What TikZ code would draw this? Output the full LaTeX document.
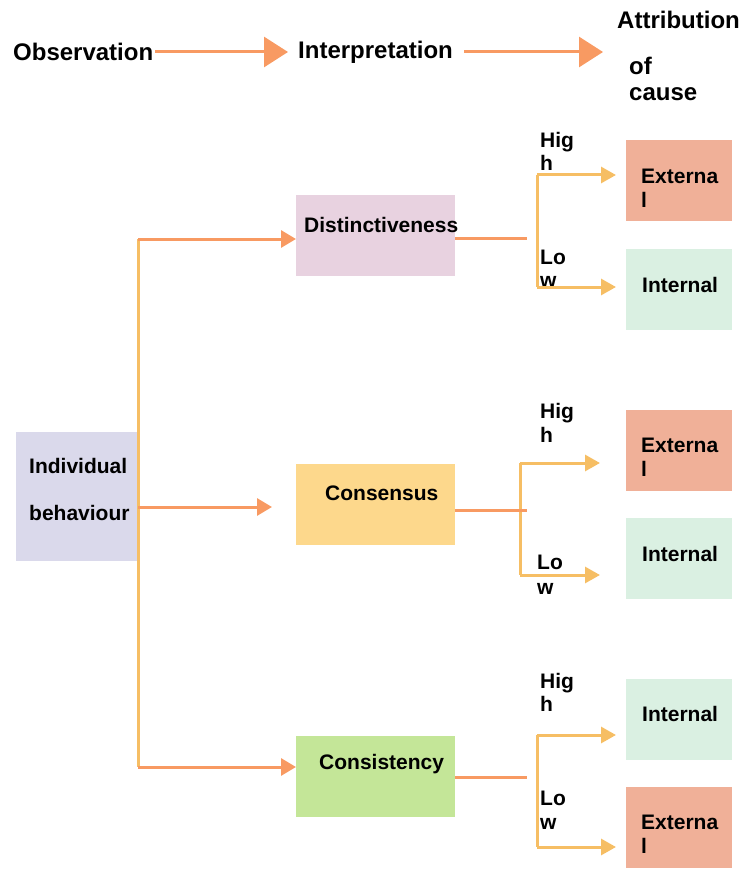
\documentclass[tikz,border=0pt]{standalone}
\usepackage{fontspec}
\setmainfont{Liberation Sans}
\usetikzlibrary{arrows.meta}
\definecolor{orline}{HTML}{F89A62}
\definecolor{yelline}{HTML}{F6BE64}
\definecolor{indivfill}{HTML}{DAD9EB}
\definecolor{distfill}{HTML}{E8D2E0}
\definecolor{consfill}{HTML}{FDD88C}
\definecolor{consifill}{HTML}{C4E698}
\definecolor{extfill}{HTML}{F0B098}
\definecolor{intfill}{HTML}{DAF0E2}
\tikzset{
  lbl/.style={inner sep=0pt, anchor=west, align=left, font=\fontsize{21}{24}\selectfont\bfseries},
  hdr/.style={inner sep=0pt, anchor=west, font=\fontsize{24}{28}\selectfont\bfseries},
  mid/.style={draw=none, inner sep=0pt, anchor=north west, minimum width=159pt, minimum height=81pt},
  res/.style={draw=none, inner sep=0pt, anchor=north west, minimum width=106pt, minimum height=81pt},
  orl/.style={draw=orline, line width=3pt},
  yel/.style={draw=yelline, line width=3pt},
  ora/.style={orl, -{Triangle[length=15pt,width=17pt]}},
  yea/.style={yel, -{Triangle[length=15pt,width=16pt]}},
  biga/.style={orl, -{Triangle[length=24pt,width=30pt]}}
}
\begin{document}
\begin{tikzpicture}[x=1pt,y=-1pt]
\useasboundingbox (0,0) rectangle (741,869);

% header
\node[hdr] (obs) at (13,52) {Observation};
\node[hdr] (interp) at (298,52) {Interpretation};
\node[hdr] (attr) at (617,20) {Attribution};
\node[hdr] (of) at (629,66) {of};
\node[hdr] (cause) at (629,94) {cause};
\draw[biga, shorten <=2pt, shorten >=10pt] (obs.east) -- (interp.west |- obs.east);
\draw[biga, shorten <=11pt, shorten >=26pt] (interp.east) -- (of.west |- interp.east);

% boxes
\node[draw=none, fill=indivfill, inner sep=0pt, anchor=north west, minimum width=122pt, minimum height=129pt] (indiv) at (16,432) {};
\node[mid, fill=distfill] (dist) at (296,195) {};
\node[mid, fill=consfill] (cons) at (296,464) {};
\node[mid, fill=consifill] (consi) at (296,736) {};
\node[res, fill=extfill] (ext1) at (626,140) {};
\node[res, fill=intfill] (int1) at (626,249) {};
\node[res, fill=extfill] (ext2) at (626,410) {};
\node[res, fill=intfill] (int2) at (626,518) {};
\node[res, fill=intfill] (int3) at (626,679) {};
\node[res, fill=extfill] (ext3) at (626,787) {};

% box texts
\node[lbl, font=\fontsize{21}{47}\selectfont\bfseries] (indivtxt) at (29,489.5) {Individual\\behaviour};
\node[lbl] (disttxt) at (304,225) {Distinctiveness};
\node[lbl] (constxt) at (325,493) {Consensus};
\node[lbl] (consitxt) at (319,764) {Consistency};
\node[lbl] (ext1txt) at (641,188) {Externa\\l};
\node[lbl] (int1txt) at (642,285) {Internal};
\node[lbl] (ext2txt) at (641,457) {Externa\\l};
\node[lbl] (int2txt) at (642,554) {Internal};
\node[lbl] (int3txt) at (642,714) {Internal};
\node[lbl] (ext3txt) at (641,834) {Externa\\l};

% high / low
\node[lbl, font=\fontsize{21}{23}\selectfont\bfseries] (hi1) at (540,151.5) {Hig\\h};
\node[lbl, font=\fontsize{21}{23}\selectfont\bfseries] (lo1) at (540,269) {Lo\\w};
\node[lbl, font=\fontsize{21}{24}\selectfont\bfseries] (hi2) at (540,423) {Hig\\h};
\node[lbl, font=\fontsize{21}{25}\selectfont\bfseries] (lo2) at (537,574.5) {Lo\\w};
\node[lbl, font=\fontsize{21}{23}\selectfont\bfseries] (hi3) at (540,692.5) {Hig\\h};
\node[lbl, font=\fontsize{21}{24}\selectfont\bfseries] (lo3) at (540,810) {Lo\\w};

% left tree
\coordinate (ttop) at (138,239);
\coordinate (tmid) at (138,507);
\coordinate (tbot) at (138,767);
\draw[yel] (ttop) -- (tbot);
\draw[ora] (ttop) -- (ttop -| dist.west);
\draw[ora, shorten >=24pt] (tmid) -- (tmid -| cons.west);
\draw[ora] (tbot) -- (tbot -| consi.west);

% distinctiveness
\coordinate (dfork) at (527,238);
\coordinate (dhi) at (537,175);
\coordinate (dlo) at (537,287);
\draw[orl] (dist.east |- dfork) -- (dfork);
\draw[yel] (dhi) -- (dlo);
\draw[yea, shorten >=10pt] (dhi) -- (dhi -| ext1.west);
\draw[yea, shorten >=10pt] (dlo) -- (dlo -| int1.west);

% consensus
\coordinate (cfork) at (527,510);
\coordinate (chi) at (520,463);
\coordinate (clo) at (520,575);
\draw[yel] (chi) -- (clo);
\draw[orl] (cons.east |- cfork) -- (cfork);
\draw[yea, shorten >=26pt] (chi) -- (chi -| ext2.west);
\draw[yea, shorten >=26pt] (clo) -- (clo -| int2.west);

% consistency
\coordinate (kfork) at (527,777);
\coordinate (khi) at (537,735);
\coordinate (klo) at (537,847);
\draw[orl] (consi.east |- kfork) -- (kfork);
\draw[yel] (khi) -- (klo);
\draw[yea, shorten >=10pt] (khi) -- (khi -| int3.west);
\draw[yea, shorten >=10pt] (klo) -- (klo -| ext3.west);
\end{tikzpicture}
\end{document}
